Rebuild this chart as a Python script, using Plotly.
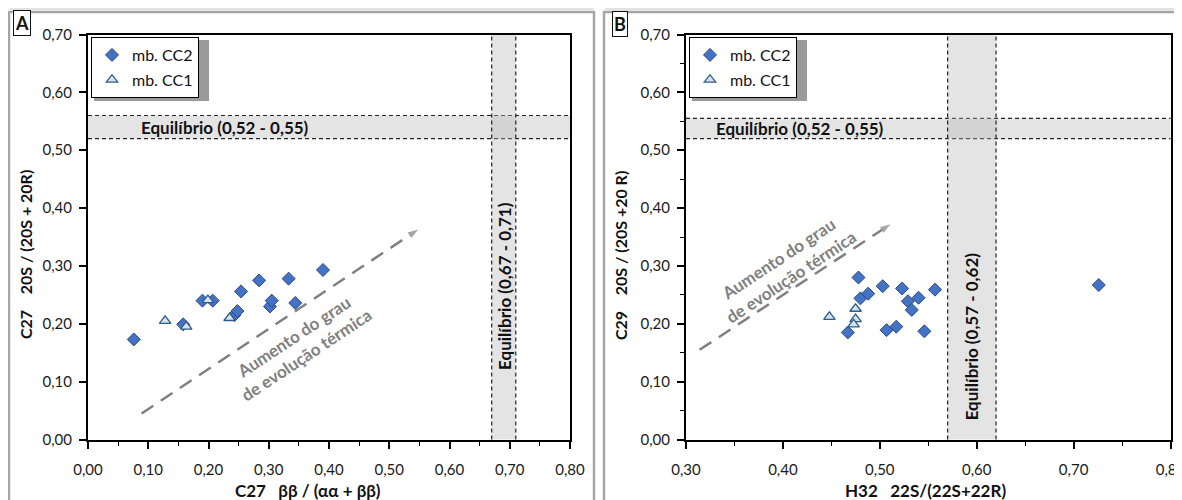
import plotly.graph_objects as go

# ---------------- data ----------------
# Panel A: C27 bb/(aa+bb) vs C27 20S/(20S+20R)
cc2_a_x = [0.076, 0.158, 0.190, 0.207, 0.243, 0.248, 0.254, 0.284, 0.302, 0.305, 0.333, 0.344, 0.390]
cc2_a_y = [0.173, 0.199, 0.240, 0.240, 0.215, 0.222, 0.256, 0.275, 0.230, 0.240, 0.278, 0.236, 0.293]
cc1_a_x = [0.128, 0.163, 0.199, 0.235]
cc1_a_y = [0.205, 0.195, 0.241, 0.210]

# Panel B: H32 22S/(22S+22R) vs C29 20S/(20S+20R)
cc2_b_x = [0.467, 0.478, 0.480, 0.488, 0.503, 0.507, 0.517, 0.523, 0.529, 0.533, 0.540, 0.546, 0.557, 0.726]
cc2_b_y = [0.185, 0.280, 0.244, 0.252, 0.265, 0.189, 0.195, 0.261, 0.239, 0.224, 0.245, 0.187, 0.259, 0.267]
cc1_b_x = [0.448, 0.475, 0.475, 0.473]
cc1_b_y = [0.212, 0.226, 0.208, 0.199]

series_names = ["mb. CC2", "mb. CC1"]

# equilibrium ranges (as drawn)
eq_h_a = [0.52, 0.56]
eq_v_a = [0.67, 0.71]
eq_h_b = [0.52, 0.555]
eq_v_b = [0.57, 0.62]
eq_h_label = "Equilíbrio (0,52 - 0,55)"
eq_v_label_a = "Equilíbrio (0,67 - 0,71)"
eq_v_label_b = "Equilíbrio (0,57 - 0,62)"

# trend arrows (start, end) in data units
arrow_a_x = [0.089, 0.548]
arrow_a_y = [0.045, 0.363]
arrow_b_x = [0.314, 0.511]
arrow_b_y = [0.155, 0.372]
arrow_text = "Aumento do grau<br>de evolução térmica"

x_title_a = "C27\u00a0\u00a0\u00a0ββ / (αα + ββ)"
y_title_a = "C27\u00a0\u00a0\u00a0\u00a020S / (20S + 20R)"
x_title_b = "H32\u00a0\u00a0\u00a022S/(22S+22R)"
y_title_b = "C29\u00a0\u00a0\u00a0\u00a020S / (20S +20 R)"

# ---------------- style ----------------
FONT = "Lato, 'Open Sans', sans-serif"
W, H = 1182, 500
OFF = 8  # page body margin offset compensation
DIAMOND_FILL = "#4472C4"
DIAMOND_LINE = "#2A4A80"
TRI_FILL = "#D6E0EE"
TRI_LINE = "#2E5C8A"
ARROW_GRAY = "#808080"
BAND_FILL = "rgba(185,185,185,0.38)"

def px_x(p):
    return (p - OFF) / W

def px_y(p):
    return 1 - (p - OFF) / H

fig = go.Figure()

def add_points(xs, ys, xa, ya, name, legend, symbol, fill, line, lw):
    fig.add_trace(go.Scatter(
        x=xs, y=ys, mode="markers", name=name, xaxis=xa, yaxis=ya,
        legend=legend, legendgroup=legend + name,
        marker=dict(symbol=symbol, size=10, color=fill, line=dict(color=line, width=lw)),
        hoverinfo="x+y",
    ))

add_points(cc2_a_x, cc2_a_y, "x", "y", series_names[0], "legend", "diamond", DIAMOND_FILL, DIAMOND_LINE, 1)
add_points(cc1_a_x, cc1_a_y, "x", "y", series_names[1], "legend", "triangle-up", TRI_FILL, TRI_LINE, 1.3)
add_points(cc2_b_x, cc2_b_y, "x2", "y2", series_names[0], "legend2", "diamond", DIAMOND_FILL, DIAMOND_LINE, 1)
add_points(cc1_b_x, cc1_b_y, "x2", "y2", series_names[1], "legend2", "triangle-up", TRI_FILL, TRI_LINE, 1.3)

# dashed trend arrows
for ax_x, ax_y, xa, ya in [(arrow_a_x, arrow_a_y, "x", "y"), (arrow_b_x, arrow_b_y, "x2", "y2")]:
    fig.add_trace(go.Scatter(
        x=ax_x, y=ax_y, xaxis=xa, yaxis=ya, mode="lines+markers", showlegend=False,
        hoverinfo="skip",
        line=dict(color=ARROW_GRAY, width=2.5, dash="14px,9px"),
        marker=dict(symbol=["circle", "arrow"], size=[0, 11], angleref="previous",
                    color=ARROW_GRAY, line=dict(width=0)),
    ))

shapes = []
annotations = []

def bands(xr, yr, hband, vband):
    shapes.append(dict(type="rect", xref=xr + " domain", yref=yr, x0=0, x1=1,
                       y0=hband[0], y1=hband[1], fillcolor=BAND_FILL, line=dict(width=0), layer="below"))
    for v in hband:
        shapes.append(dict(type="line", xref=xr + " domain", yref=yr, x0=0, x1=1, y0=v, y1=v,
                           line=dict(color="#222", width=1.2, dash="4px,3px"), layer="below"))
    shapes.append(dict(type="rect", xref=xr, yref=yr + " domain", x0=vband[0], x1=vband[1],
                       y0=0, y1=1, fillcolor=BAND_FILL, line=dict(width=0), layer="below"))
    for v in vband:
        shapes.append(dict(type="line", xref=xr, yref=yr + " domain", x0=v, x1=v, y0=0, y1=1,
                           line=dict(color="#222", width=1.2, dash="4px,3px"), layer="below"))

bands("x", "y", eq_h_a, eq_v_a)
bands("x2", "y2", eq_h_b, eq_v_b)

# panel frames (gray Excel-like borders)
for x0, x1 in [(9, 594), (604, 1200)]:
    shapes.append(dict(type="rect", xref="paper", yref="paper",
                       x0=px_x(x0), x1=px_x(x1), y0=px_y(520), y1=px_y(12),
                       line=dict(color="#A6A6A6", width=2.5), fillcolor="rgba(0,0,0,0)", layer="below"))
    shapes.append(dict(type="line", xref="paper", yref="paper",
                       x0=px_x(x0 + 1), x1=px_x(x1), y0=px_y(9), y1=px_y(9),
                       line=dict(color="#E2E2E2", width=3), layer="below"))

# legend shadows (drawn beneath the legends)
for lx0 in [91, 689]:
    shapes.append(dict(type="rect", xref="paper", yref="paper",
                       x0=px_x(lx0 + 3), x1=px_x(lx0 + 118), y0=px_y(101), y1=px_y(40),
                       fillcolor="#9a9a9a", line=dict(width=0), layer="above"))

bold_black = dict(family=FONT, size=17, color="#111")
ctr = dict(showarrow=False, xanchor="center", yanchor="middle")
annotations += [
    dict(xref="x", yref="y", x=0.227, y=0.540, text="<b>" + eq_h_label + "</b>", font=bold_black, **ctr),
    dict(xref="x2", yref="y2", x=0.418, y=0.5375, text="<b>" + eq_h_label + "</b>", font=bold_black, **ctr),
    dict(xref="x", yref="y", x=0.69, y=0.265, text="<b>" + eq_v_label_a + "</b>",
         textangle=-90, font=bold_black, **ctr),
    dict(xref="x2", yref="y2", x=0.595, y=0.178, text="<b>" + eq_v_label_b + "</b>",
         textangle=-90, font=bold_black, **ctr),
    dict(xref="x", yref="y", x=0.352, y=0.163, text="<b>" + arrow_text + "</b>",
         textangle=-33.5, font=dict(family=FONT, size=17, color=ARROW_GRAY), **ctr),
    dict(xref="x2", yref="y2", x=0.402, y=0.297, text="<b>" + arrow_text + "</b>",
         textangle=-33.5, font=dict(family=FONT, size=17, color=ARROW_GRAY), **ctr),
    dict(xref="paper", yref="paper", x=px_x(308), y=px_y(490), text="<b>" + x_title_a + "</b>",
         font=dict(family=FONT, size=17, color="#111"), **ctr),
    dict(xref="paper", yref="paper", x=px_x(925), y=px_y(490), text="<b>" + x_title_b + "</b>",
         font=dict(family=FONT, size=17, color="#111"), **ctr),
    dict(xref="paper", yref="paper", x=px_x(25), y=px_y(255), text="<b>" + y_title_a + "</b>",
         textangle=-90, font=dict(family=FONT, size=16, color="#111"), **ctr),
    dict(xref="paper", yref="paper", x=px_x(620), y=px_y(256), text="<b>" + y_title_b + "</b>",
         textangle=-90, font=dict(family=FONT, size=16, color="#111"), **ctr),
    dict(xref="paper", yref="paper", x=px_x(21.5), y=px_y(23), text="<b>A</b>",
         bgcolor="white", bordercolor="#111", borderwidth=1, borderpad=1,
         font=dict(family=FONT, size=18, color="#111"), **ctr),
    dict(xref="paper", yref="paper", x=px_x(620), y=px_y(23.5), text="<b>B</b>",
         bgcolor="white", bordercolor="#111", borderwidth=1, borderpad=1,
         font=dict(family=FONT, size=18, color="#111"), **ctr),
]

tickfont = dict(family=FONT, size=15, color="#1a1a1a")
axis_common = dict(showline=True, linecolor="black", linewidth=2, mirror=True, showgrid=False,
                   zeroline=False, ticks="outside", ticklen=7, tickwidth=1.5, tickcolor="black",
                   tickformat=".2f", tickfont=tickfont, automargin=False)
minor_ticks = dict(dtick=0.05, ticks="outside", ticklen=4, tickwidth=1.2, tickcolor="black")

y_top, y_bot = 34.5, 439.5
fig.update_layout(
    width=W, height=H,
    margin=dict(l=0, r=0, t=0, b=0, autoexpand=False),
    paper_bgcolor="white", plot_bgcolor="white",
    separators=", ",
    font=dict(family=FONT),
    xaxis=dict(domain=[px_x(88), px_x(570)], range=[0, 0.8], dtick=0.1, anchor="y",
               ticklabelstandoff=8, minor=minor_ticks, **axis_common),
    yaxis=dict(domain=[px_y(y_bot), px_y(y_top)], range=[0, 0.7], dtick=0.1, anchor="x",
               ticklabelstandoff=4, **axis_common),
    xaxis2=dict(domain=[px_x(686), px_x(1170.5)], range=[0.3, 0.8], dtick=0.1, tick0=0.3, anchor="y2",
                ticklabelstandoff=8, minor=minor_ticks, **axis_common),
    yaxis2=dict(domain=[px_y(y_bot), px_y(y_top)], range=[0, 0.7], dtick=0.1, anchor="x2",
                ticklabelstandoff=4, minor=minor_ticks, **axis_common),
    legend=dict(x=px_x(91), y=px_y(37), xanchor="left", yanchor="top", bgcolor="white",
                bordercolor="black", borderwidth=1, font=dict(family=FONT, size=16, color="#111"),
                tracegroupgap=1, itemwidth=30),
    legend2=dict(x=px_x(689), y=px_y(37), xanchor="left", yanchor="top", bgcolor="white",
                 bordercolor="black", borderwidth=1, font=dict(family=FONT, size=16, color="#111"),
                 tracegroupgap=1, itemwidth=30),
    shapes=shapes,
    annotations=annotations,
    showlegend=True,
)

fig.write_html("out.html")
